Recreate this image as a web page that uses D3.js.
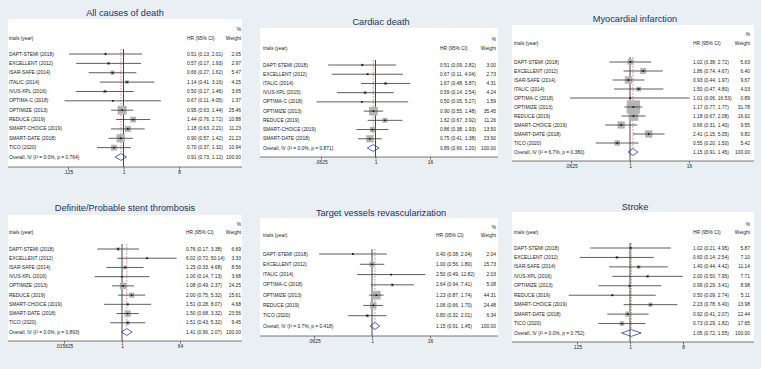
<!DOCTYPE html>
<html><head><meta charset="utf-8">
<script src="https://cdn.jsdelivr.net/npm/d3@7"></script>
<style>
html,body{margin:0;padding:0;background:#e9eff3;}
svg{display:block;font-family:"Liberation Sans",Arial,Helvetica,sans-serif;}
</style></head><body>
<svg id="chart" width="761" height="369"></svg>
<script>
// ---------- DATA ----------
const titles = ["All causes of death","Cardiac death","Myocardial infarction",
  "Definite/Probable stent thrombosis","Target vessels revascularization","Stroke"];

// All causes of death
const acdTrials = ["DAPT-STEMI (2018)","EXCELLENT (2012)","ISAR-SAFE (2014)","ITALIC (2014)","IVUS-XPL (2016)",
  "OPTIMA-C (2018)","OPTIMIZE (2013)","REDUCE (2019)","SMART-CHOICE (2019)","SMART-DATE (2018)","TICO (2020)"];
const acdHR = [0.51,0.57,0.66,1.14,0.50,0.67,0.95,1.44,1.18,0.90,0.70];
const acdLo = [0.13,0.17,0.27,0.41,0.17,0.11,0.63,0.76,0.63,0.57,0.37];
const acdHi = [2.01,1.93,1.62,3.16,1.46,4.05,1.44,2.72,2.21,1.42,1.32];
const acdWt = [2.05,2.97,5.47,4.25,3.65,1.37,25.46,10.88,11.23,21.23,10.94];
const acdOverall = ["Overall, IV (I\u00B2 = 0.0%, p = 0.764)",0.91,0.73,1.12,100];
const acdTicks = [0.125,1,8];
const acdTickLabels = [".125","1","8"];

// Cardiac death
const cdTrials = ["DAPT-STEMI (2018)","EXCELLENT (2012)","ITALIC (2014)","IVUS-XPL (2015)","OPTIMA-C (2018)",
  "OPTIMIZE (2013)","REDUCE (2019)","SMART-CHOICE (2019)","SMART-DATE (2018)"];
const cdHR = [0.51,0.67,1.67,0.59,0.50,0.90,1.62,0.86,0.75];
const cdLo = [0.09,0.11,0.48,0.14,0.05,0.55,0.67,0.38,0.41];
const cdHi = [2.82,4.04,5.87,2.54,5.27,1.48,3.92,1.93,1.38];
const cdWt = [3.00,2.73,4.31,4.24,1.59,35.45,11.26,13.50,23.90];
const cdOverall = ["Overall, IV (I\u00B2 = 0.0%, p = 0.871)",0.89,0.66,1.20,100];
const cdTicks = [0.0625,1,16];
const cdTickLabels = [".0625","1","16"];

// Myocardial infarction
const miTrials = ["DAPT-STEMI (2018)","EXCELLENT (2012)","ISAR-SAFE (2014)","ITALIC (2014)","OPTIMA-C (2018)",
  "OPTIMIZE (2013)","REDUCE (2019)","SMART-CHOICE (2019)","SMART-DATE (2018)","TICO (2020)"];
const miHR = [1.02,1.86,0.93,1.50,1.01,1.17,1.18,0.66,2.41,0.55];
const miLo = [0.38,0.74,0.44,0.47,0.06,0.77,0.67,0.31,1.15,0.20];
const miHi = [2.72,4.67,1.97,4.80,16.53,1.77,2.08,1.40,5.05,1.50];
const miWt = [5.63,6.40,9.67,4.03,0.89,31.78,16.92,9.55,9.82,5.42];
const miOverall = ["Overall, IV (I\u00B2 = 6.7%, p = 0.380)",1.15,0.91,1.45,100];
const miTicks = [0.0625,1,16];
const miTickLabels = [".0625","1","16"];

// Definite/Probable stent thrombosis
const stTrials = ["DAPT-STEMI (2018)","EXCELLENT (2012)","ISAR-SAFE (2014)","IVUS-XPL (2016)","OPTIMIZE (2013)",
  "REDUCE (2019)","SMART-CHOICE (2019)","SMART-DATE (2018)","TICO (2020)"];
const stHR = [0.76,6.02,1.25,1.00,1.08,2.00,1.51,1.50,1.51];
const stLo = [0.17,0.72,0.33,0.14,0.49,0.75,0.28,0.68,0.43];
const stHi = [3.38,50.14,4.68,7.13,2.37,5.32,8.07,3.32,5.32];
const stWt = [6.69,3.33,8.56,3.68,24.25,15.61,4.68,23.56,9.45];
const stOverall = ["Overall, IV (I\u00B2 = 0.0%, p = 0.893)",1.41,0.96,2.07,100];
const stTicks = [0.015625,1,64];
const stTickLabels = [".015625","1","64"];

// Target vessels revascularization
const tvTrials = ["DAPT-STEMI (2018)","EXCELLENT (2012)","ITALIC (2014)","OPTIMA-C (2018)","OPTIMIZE (2013)",
  "REDUCE (2019)","TICO (2020)"];
const tvHR = [0.40,1.00,2.50,2.64,1.23,1.06,0.80];
const tvLo = [0.08,0.56,0.49,0.94,0.87,0.66,0.32];
const tvHi = [2.04,1.80,12.82,7.41,1.74,1.70,2.01];
const tvWt = [2.04,15.73,2.03,5.08,44.31,24.48,6.34];
const tvOverall = ["Overall, IV (I\u00B2 = 0.7%, p = 0.418)",1.15,0.91,1.45,100];
const tvTicks = [0.0625,1,16];
const tvTickLabels = [".0625","1","16"];

// Stroke
const skTrials = ["DAPT-STEMI (2018)","EXCELLENT (2012)","ISAR-SAFE (2014)","IVUS-XPL (2016)","OPTIMIZE (2013)",
  "REDUCE (2019)","SMART-CHOICE (2019)","SMART-DATE (2018)","TICO (2020)"];
const skHR = [1.02,0.60,1.40,2.00,0.99,0.50,2.23,0.92,0.73];
const skLo = [0.21,0.14,0.44,0.50,0.29,0.09,0.78,0.41,0.29];
const skHi = [4.95,2.54,4.42,7.95,3.41,2.74,6.40,2.07,1.82];
const skWt = [5.87,7.10,11.14,7.71,8.98,5.11,13.98,22.44,17.65];
const skOverall = ["Overall, IV (I\u00B2 = 0.0%, p = 0.752)",1.05,0.72,1.55,100];
const skTicks = [0.125,1,8];
const skTickLabels = [".125","1","8"];

// ---------- LAYOUT (positions only) ----------
const layouts = [
 {cx:125,titleY:13, x0:8,  x1:242,top:19, pctY:29, headY:38, row0:54, rowN:157,axisY:167,tickY:172,t0:68, t1:179,textX:9,  hrX:187,wtX:241,k:1.78},
 {cx:381,titleY:22, x0:260,x1:498,top:28, pctY:39, headY:48, row0:65, rowN:148,axisY:157,tickY:163,t0:321,t1:430,textX:263,hrX:440,wtX:496,k:1.46},
 {cx:635,titleY:19, x0:512,x1:754,top:25, pctY:34, headY:43, row0:62, rowN:152,axisY:161,tickY:166,t0:571,t1:689,textX:514,hrX:693,wtX:750,k:2.35},
 {cx:125,titleY:208,x0:8,  x1:242,top:215,pctY:224,headY:232,row0:249,rowN:332,axisY:341,tickY:346,t0:64, t1:180,textX:9,  hrX:186,wtX:241,k:1.3},
 {cx:381,titleY:213,x0:260,x1:498,top:218,pctY:227,headY:235,row0:254,rowN:326,axisY:336,tickY:341,t0:314,t1:430,textX:263,hrX:436,wtX:496,k:1.31},
 {cx:635,titleY:207,x0:512,x1:754,top:212,pctY:224,headY:232,row0:248,rowN:333,axisY:342,tickY:347,t0:577,t1:683,textX:514,hrX:693,wtX:750,k:1.1}
];

const panels = [
 {trials:acdTrials,hr:acdHR,lo:acdLo,hi:acdHi,wt:acdWt,ov:acdOverall,ticks:acdTicks,tl:acdTickLabels},
 {trials:cdTrials, hr:cdHR, lo:cdLo, hi:cdHi, wt:cdWt, ov:cdOverall, ticks:cdTicks, tl:cdTickLabels},
 {trials:miTrials, hr:miHR, lo:miLo, hi:miHi, wt:miWt, ov:miOverall, ticks:miTicks, tl:miTickLabels},
 {trials:stTrials, hr:stHR, lo:stLo, hi:stHi, wt:stWt, ov:stOverall, ticks:stTicks, tl:stTickLabels},
 {trials:tvTrials, hr:tvHR, lo:tvLo, hi:tvHi, wt:tvWt, ov:tvOverall, ticks:tvTicks, tl:tvTickLabels},
 {trials:skTrials, hr:skHR, lo:skLo, hi:skHi, wt:skWt, ov:skOverall, ticks:skTicks, tl:skTickLabels}
];

const svg = d3.select("#chart");
const f2 = d3.format(".2f");
const FS = 4.9;

panels.forEach((p, i) => {
  const L = layouts[i];
  const g = svg.append("g");
  g.append("rect").attr("x", L.x0).attr("y", L.top).attr("width", L.x1 - L.x0)
    .attr("height", L.axisY - L.top).attr("fill", "#ffffff");
  g.append("text").attr("x", L.cx).attr("y", L.titleY).attr("text-anchor", "middle")
    .attr("dominant-baseline", "central").attr("font-size", 9.2).attr("fill", "#1a3366").text(titles[i]);

  const x = d3.scaleLog().base(2).domain([p.ticks[0], p.ticks[p.ticks.length - 1]]).range([L.t0, L.t1]);
  const n = p.trials.length + 1;
  const y = d3.scaleLinear().domain([0, n - 1]).range([L.row0, L.rowN]);

  const txt = (xx, yy, s, anchor) => g.append("text").attr("x", xx).attr("y", yy)
    .attr("text-anchor", anchor || "start").attr("dominant-baseline", "central")
    .attr("font-size", FS).attr("fill", "#222").text(s);

  // header
  txt(L.wtX, L.pctY, "%", "end");
  txt(L.textX, L.headY, "trials (year)");
  txt(L.hrX, L.headY, "HR (95% CI)");
  txt(L.wtX, L.headY, "Weight", "end");

  const ov = p.ov;
  // null line
  g.append("line").attr("x1", x(1)).attr("x2", x(1)).attr("y1", L.row0 - 5).attr("y2", L.axisY)
    .attr("stroke", "#333").attr("stroke-width", 0.9);
  // overall dashed line
  g.append("line").attr("x1", x(ov[1])).attr("x2", x(ov[1])).attr("y1", L.row0 - 5).attr("y2", y(n - 1) - 4)
    .attr("stroke", "#dd4a4a").attr("stroke-width", 0.7).attr("stroke-dasharray", "1.6,1.4");

  const idx = d3.range(p.trials.length);
  // boxes
  g.selectAll(".box").data(idx).join("rect")
    .attr("x", d => x(p.hr[d]) - L.k * Math.sqrt(p.wt[d]) / 2)
    .attr("y", d => y(d) - L.k * Math.sqrt(p.wt[d]) / 2)
    .attr("width", d => L.k * Math.sqrt(p.wt[d]))
    .attr("height", d => L.k * Math.sqrt(p.wt[d]))
    .attr("fill", "#b4b4b4");
  // CIs
  g.selectAll(".ci").data(idx).join("line")
    .attr("x1", d => x(p.lo[d])).attr("x2", d => x(p.hi[d]))
    .attr("y1", d => y(d)).attr("y2", d => y(d))
    .attr("stroke", "#333").attr("stroke-width", 0.8);
  // dots
  g.selectAll(".dot").data(idx).join("circle")
    .attr("cx", d => x(p.hr[d])).attr("cy", d => y(d)).attr("r", 0.9).attr("fill", "#111");
  // diamond
  const yo = y(n - 1), dh = 3.4;
  g.append("path").attr("d", `M${x(ov[2])},${yo}L${x(ov[1])},${yo - dh}L${x(ov[3])},${yo}L${x(ov[1])},${yo + dh}Z`)
    .attr("fill", "none").attr("stroke", "#2b3a9c").attr("stroke-width", 0.8);

  // texts
  idx.forEach(d => {
    txt(L.textX, y(d), p.trials[d]);
    txt(L.hrX, y(d), `${f2(p.hr[d])} (${f2(p.lo[d])}, ${f2(p.hi[d])})`);
    txt(L.wtX, y(d), f2(p.wt[d]), "end");
  });
  txt(L.textX, yo, ov[0]);
  txt(L.hrX, yo, `${f2(ov[1])} (${f2(ov[2])}, ${f2(ov[3])})`);
  txt(L.wtX, yo, f2(ov[4]), "end");

  // axis
  g.append("line").attr("x1", L.x0).attr("x2", L.x1).attr("y1", L.axisY).attr("y2", L.axisY)
    .attr("stroke", "#555").attr("stroke-width", 0.8);
  const ax = g.append("g").attr("transform", `translate(0,${L.axisY})`)
    .call(d3.axisBottom(x).tickValues(p.ticks).tickFormat((d, j) => p.tl[j]).tickSize(2.5).tickSizeOuter(0).tickPadding(1.5));
  ax.select(".domain").remove();
  ax.selectAll(".tick line").attr("stroke", "#555").attr("stroke-width", 0.8);
  ax.selectAll(".tick text").attr("font-size", FS).attr("fill", "#222").attr("font-family", null);
});
</script>
</body></html>
